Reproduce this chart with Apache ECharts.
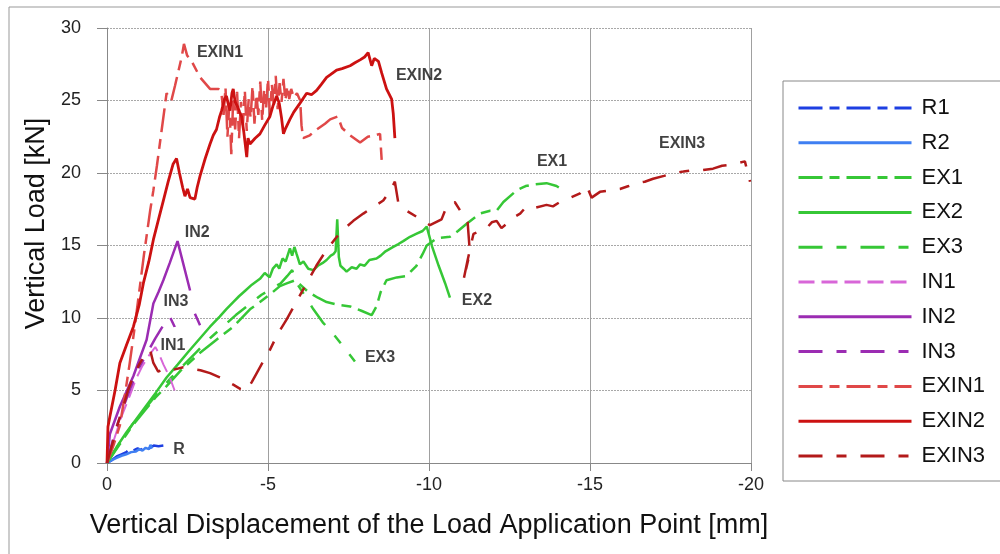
<!DOCTYPE html>
<html>
<head>
<meta charset="utf-8">
<script src="https://cdn.jsdelivr.net/npm/echarts@6/dist/echarts.min.js"></script>
<style>
  html, body { margin: 0; padding: 0; background: #fff; }
  #main { width: 1000px; height: 554px; }
</style>
</head>
<body>
<div id="main"></div>
<script>
// displacement [mm] (negative = downward), load [kN]
const R1 = [[0,0],[-0.15,0.2],[-0.3,0.45],[-0.45,0.6],[-0.6,0.75],[-0.7,0.95],[-0.8,0.85],[-0.95,1.0],[-1.05,0.9],[-1.2,1.1],[-1.3,1.0],[-1.45,1.2],[-1.6,1.15],[-1.75,1.2]]
const R2 = [[0,0],[-0.15,0.2],[-0.3,0.35],[-0.45,0.5],[-0.6,0.6],[-0.75,0.75],[-0.9,0.8],[-1.0,0.95],[-1.1,0.85],[-1.2,1.05],[-1.3,0.95],[-1.35,1.25],[-1.4,1.0]]

const EX1 = [[0,0],[-0.4,1.3],[-0.8,2.6],[-1.2,3.7],[-1.5,4.5],[-1.85,5.3],[-2.3,6.4],[-2.89,7.6],[-3.4,8.5],[-3.92,9.4],[-4.44,10.6],[-4.75,11.1],[-5.1,11.7],[-5.37,12.2],[-5.6,12.4],[-5.84,12.6],[-6.0,12.3],[-6.25,11.8],[-6.55,11.4],[-6.82,11.1],[-7.2,10.9],[-7.55,10.8],[-7.9,10.5],[-8.22,10.2],[-8.37,10.8],[-8.5,11.8],[-8.68,12.6],[-9.0,12.8],[-9.3,12.9],[-9.61,13.6],[-9.8,14.4],[-9.93,15.0],[-10.24,15.5],[-10.65,15.6],[-10.9,16.0],[-11.17,16.5],[-11.58,17.2],[-11.9,17.4],[-12.1,17.4],[-12.31,18.0],[-12.72,18.8],[-13.0,19.1],[-13.24,19.2],[-13.65,19.3],[-13.96,19.1],[-14.17,18.8]]
const EX2 = [[0,0],[-0.3,1.1],[-0.6,2.1],[-0.9,3.0],[-1.2,3.9],[-1.5,4.8],[-1.85,5.9],[-2.2,6.8],[-2.5,7.6],[-2.89,8.6],[-3.2,9.4],[-3.5,10.1],[-3.7,10.6],[-3.92,11.1],[-4.1,11.5],[-4.3,11.9],[-4.5,12.3],[-4.75,12.7],[-4.9,13.1],[-5.05,12.8],[-5.15,13.4],[-5.27,13.7],[-5.35,13.4],[-5.45,14.1],[-5.55,13.9],[-5.68,14.8],[-5.75,14.3],[-5.82,14.9],[-5.89,14.4],[-5.99,13.7],[-6.1,13.9],[-6.25,13.4],[-6.41,13.3],[-6.55,13.6],[-6.7,13.8],[-6.82,14.0],[-6.95,14.3],[-7.03,14.4],[-7.1,14.6],[-7.15,16.8],[-7.2,14.2],[-7.25,13.6],[-7.35,13.4],[-7.44,13.2],[-7.6,13.5],[-7.75,13.4],[-7.86,13.7],[-8.0,13.6],[-8.15,14.0],[-8.37,14.1],[-8.5,14.3],[-8.65,14.6],[-8.89,14.9],[-9.05,15.1],[-9.2,15.3],[-9.41,15.6],[-9.6,15.8],[-9.8,16.0],[-9.93,16.3],[-10.1,14.9],[-10.3,13.6],[-10.5,12.4],[-10.65,11.4]]
const EX3 = [[0,0],[-0.4,1.4],[-0.8,2.7],[-1.2,3.8],[-1.6,4.9],[-2.0,5.9],[-2.4,6.8],[-2.8,7.7],[-3.2,8.6],[-3.6,9.4],[-4.0,10.2],[-4.4,10.9],[-4.8,11.6],[-5.1,12.0],[-5.4,12.4],[-5.6,12.9],[-5.75,13.3],[-5.89,12.4],[-6.1,11.7],[-6.41,10.6],[-6.7,9.7],[-7.03,8.9],[-7.35,8.0],[-7.7,7.0]]

const IN1 = [[0,0],[-0.2,1.5],[-0.45,3.2],[-0.7,4.6],[-0.9,5.8],[-1.1,6.7],[-1.3,7.4],[-1.5,8.0],[-1.6,7.6],[-1.75,6.8],[-1.95,5.9],[-2.1,5.0]]
const IN2 = [[0,0],[-0.09,2.0],[-0.4,3.9],[-0.82,6.0],[-1.0,7.1],[-1.23,8.5],[-1.44,11.0],[-1.6,11.8],[-1.75,12.6],[-1.95,13.8],[-2.19,15.3],[-2.58,11.9],'-',[-2.73,10.3],[-2.89,9.5]]
const IN3 = [[0,0],[-0.25,2.2],[-0.5,3.8],[-0.75,5.3],[-1.0,6.6],[-1.25,7.6],[-1.5,8.6],[-1.75,9.5],[-1.95,10.1],[-2.1,9.4],[-2.2,8.6]]

const EXIN1 = [[0,0],[-0.2,1.2],[-0.4,2.6],[-0.55,4.6],[-0.7,6.8],[-0.85,9.2],[-1.0,11.8],[-1.15,14.4],[-1.34,17.4],[-1.44,18.8],[-1.55,20.5],[-1.7,23.0],[-1.85,25.5],[-2.0,25.0],[-2.11,26.0],[-2.32,28.0],[-2.39,28.9],[-2.49,28.1],[-2.63,27.7],[-2.89,26.6],[-3.2,25.8],[-3.46,25.8],
  [-3.55,25.6],[-3.62,24.0],[-3.68,25.9],[-3.74,22.5],[-3.8,24.8],[-3.86,21.3],[-3.92,25.2],[-3.98,23.0],[-4.04,25.6],[-4.1,22.4],[-4.16,24.9],[-4.22,23.3],[-4.28,25.7],[-4.34,22.9],[-4.4,25.1],[-4.46,23.8],[-4.52,26.0],[-4.58,23.4],[-4.64,25.4],[-4.7,24.0],[-4.76,26.3],[-4.82,23.6],[-4.88,25.8],[-4.94,24.4],[-5.0,26.5],[-5.06,24.0],[-5.12,26.1],[-5.18,24.7],[-5.24,26.7],[-5.3,24.4],[-5.36,26.2],[-5.42,24.9],[-5.48,26.5],[-5.54,25.0],[-5.6,26.0],[-5.66,25.1],[-5.72,25.8],[-5.8,25.2],[-5.9,25.5],[-6.0,25.0],
  [-6.04,23.3],[-6.09,22.4],[-6.3,22.6],[-6.51,23.0],[-6.77,23.4],[-6.93,23.7],[-7.17,23.9],[-7.3,23.1],[-7.55,22.6],[-7.86,22.1],[-8.1,22.5],[-8.32,22.6],[-8.48,22.7],[-8.53,20.9]]
const EXIN2 = [[0,0],[-0.03,2.5],[-0.09,3.2],[-0.25,5.0],[-0.4,6.9],[-0.6,8.1],[-0.82,9.4],[-1.0,10.9],[-1.13,12.4],[-1.3,13.9],[-1.44,15.4],[-1.6,16.8],[-1.75,18.1],[-1.9,19.4],[-2.05,20.6],[-2.16,21.0],[-2.25,20.0],[-2.35,19.0],[-2.42,18.4],[-2.5,18.9],[-2.58,18.3],[-2.73,18.2],[-2.8,19.0],[-2.89,19.8],[-3.05,21.0],[-3.2,22.0],[-3.3,22.6],[-3.4,23.0],[-3.5,23.9],[-3.56,24.3],[-3.65,25.1],[-3.71,25.3],[-3.78,24.6],[-3.82,24.3],[-3.88,25.5],[-3.92,25.8],[-3.98,24.9],[-4.05,24.6],[-4.12,24.2],[-4.18,23.9],[-4.25,22.8],[-4.34,21.1],[-4.38,22.4],[-4.44,22.0],[-4.6,22.4],[-4.75,22.7],[-4.9,23.3],[-5.06,23.9],[-5.15,24.6],[-5.27,25.3],[-5.35,24.8],[-5.42,23.8],[-5.48,22.7],[-5.55,23.1],[-5.68,23.7],[-5.8,24.2],[-5.99,24.8],[-6.2,25.5],[-6.35,25.4],[-6.51,25.7],[-6.65,26.1],[-6.82,26.6],[-6.95,26.8],[-7.13,27.1],[-7.3,27.2],[-7.55,27.4],[-7.7,27.6],[-7.86,27.8],[-8.0,28.0],[-8.11,28.3],[-8.22,27.4],[-8.3,27.9],[-8.43,27.7],[-8.53,26.9],[-8.68,25.8],[-8.84,25.1],[-8.89,24.1],[-8.94,22.4]]
const EXIN3 = [[0,0],[-0.2,1.6],[-0.35,2.8],[-0.51,3.9],[-0.65,5.0],[-0.82,6.0],[-1.0,6.8],[-1.13,7.3],[-1.34,7.8],[-1.44,6.9],[-1.59,6.3],[-1.8,6.5],[-2.0,6.4],[-2.37,6.6],[-2.6,6.5],[-2.9,6.4],[-3.2,6.2],[-3.5,5.9],[-3.75,5.6],[-3.92,5.4],[-4.15,5.1],[-4.34,5.0],[-4.5,5.6],[-4.65,6.2],[-4.85,7.0],[-5.06,7.8],[-5.3,8.9],[-5.58,9.9],[-5.9,11.2],[-6.2,12.4],[-6.5,13.6],[-6.82,14.7],[-7.1,15.5],[-7.34,16.1],[-7.65,16.7],[-7.96,17.2],[-8.3,17.7],[-8.58,18.1],[-8.8,18.8],[-8.94,19.4],[-9.05,17.9],[-9.3,17.4],[-9.6,17.0],[-10.03,16.4],[-10.39,16.8],[-10.55,17.7],[-10.8,18.0],[-11.2,16.6],[-11.27,14.5],[-11.07,12.6],[-11.2,14.0],[-11.32,15.2],[-11.38,15.8],[-11.6,16.0],[-11.79,16.2],[-11.95,16.6],[-12.1,16.7],[-12.25,16.2],[-12.41,16.5],[-12.6,16.9],[-12.83,17.2],[-13.03,17.7],[-13.3,17.6],[-13.65,17.8],[-13.85,17.7],[-14.07,18.0],[-14.4,18.3],[-14.69,18.6],[-14.9,19.1],[-15.05,18.3],[-15.31,18.7],[-15.6,18.8],[-15.93,18.9],[-16.2,19.1],[-16.45,19.3],[-16.7,19.4],[-16.96,19.6],[-17.3,19.8],[-17.58,20.0],[-17.9,20.1],[-18.2,20.2],[-18.5,20.2],[-18.82,20.3],[-19.1,20.5],[-19.45,20.6],[-19.81,20.8],[-19.97,19.4]]

// curve labels inside the plot [text, x, y]
const curveLabels = [['EXIN1',-3.51,28.3],['EXIN2',-9.69,26.7],['IN2',-2.8,15.9],['IN3',-2.14,11.1],['IN1',-2.05,8.1],['R',-2.24,0.9],['EX3',-8.48,7.3],['EX2',-11.49,11.2],['EX1',-13.82,20.8],['EXIN3',-17.86,22.0]]

const legendNames = ['R1','R2','EX1','EX2','EX3','IN1','IN2','IN3','EXIN1','EXIN2','EXIN3']

const dashDot = [24, 7, 10, 7]
const longGap = [24, 14, 10, 14]

function line(name, data, color, type, width) {
  return {
    name: name,
    type: 'line',
    data: data,
    symbol: 'none',
    showSymbol: false,
    connectNulls: false,
    lineStyle: { color: color, width: width, type: type },
    itemStyle: { color: color },
    emphasis: { disabled: true },
    z: 3
  }
}

const chart = echarts.init(document.getElementById('main'))

const option = {
  animation: false,
  backgroundColor: '#fff',
  grid: { left: 107, right: 249, top: 28, bottom: 91 },
  xAxis: {
    type: 'value',
    min: -20, max: 0, interval: 5,
    inverse: true,
    name: 'Vertical Displacement of the Load Application Point [mm]',
    nameLocation: 'middle',
    nameGap: 49,
    nameTextStyle: { fontSize: 27, color: '#111', fontFamily: 'Liberation Sans' },
    axisLine: { onZero: false, lineStyle: { color: '#888' } },
    axisTick: { show: true, length: 8, lineStyle: { color: '#888' } },
    axisLabel: { fontSize: 18, color: '#222', margin: 13, fontFamily: 'Liberation Sans' },
    splitLine: { show: true, lineStyle: { color: '#a0a0a0', width: 1 } }
  },
  yAxis: {
    type: 'value',
    min: 0, max: 30, interval: 5,
    name: 'Vertical Load [kN]',
    nameLocation: 'middle',
    nameGap: 56,
    nameTextStyle: { fontSize: 27, color: '#111', fontFamily: 'Liberation Sans', padding: [0, 0, 0, 44] },
    axisLine: { show: true, onZero: false, lineStyle: { color: '#888' } },
    axisTick: { show: true, length: 10, lineStyle: { color: '#888' } },
    axisLabel: { fontSize: 18, color: '#222', margin: 26, fontFamily: 'Liberation Sans' },
    splitLine: { show: true, lineStyle: { color: '#a8a8a8', width: 1, type: [2, 1] } }
  },
  legend: {
    data: legendNames,
    orient: 'vertical',
    left: 792,
    top: 92,
    itemWidth: 113,
    itemHeight: 2,
    itemGap: 12.8,
    lineStyle: { width: 3 },
    itemStyle: { opacity: 0 },
    textStyle: { fontSize: 22, lineHeight: 22, color: '#111', fontFamily: 'Liberation Sans', padding: [0, 0, 0, 5] },
    selectedMode: false
  },
  graphic: [
    { type: 'rect', shape: { x: 9, y: 7, width: 1000, height: 560 }, style: { fill: 'none', stroke: '#999', lineWidth: 1 }, z: -1 },
    { type: 'rect', shape: { x: 783, y: 81, width: 230, height: 400 }, style: { fill: 'none', stroke: '#888', lineWidth: 1 }, z: -1 }
  ],
  series: [
    line('R1', R1, '#1d3fe2', dashDot, 2.5),
    line('R2', R2, '#3f7ff2', 'solid', 2.5),
    line('EX1', EX1, '#36c736', dashDot, 2.5),
    line('EX2', EX2, '#36c736', 'solid', 2.5),
    line('EX3', EX3, '#36c736', longGap, 2.5),
    line('IN1', IN1, '#d866d8', [16, 7], 2),
    line('IN2', IN2, '#9b2cb2', 'solid', 2.5),
    line('IN3', IN3, '#9b2cb2', longGap, 2.5),
    line('EXIN1', EXIN1, '#e04848', dashDot, 2.5),
    line('EXIN2', EXIN2, '#cc1111', 'solid', 2.8),
    line('EXIN3', EXIN3, '#b31a1a', longGap, 2.5),
    {
      type: 'scatter',
      silent: true,
      symbolSize: 0,
      data: curveLabels.map(d => ({ name: d[0], value: [d[1], d[2]] })),
      label: {
        show: true,
        position: 'inside',
        formatter: p => p.name,
        fontSize: 16,
        fontWeight: 'bold',
        color: '#111',
        fontFamily: 'Liberation Sans'
      },
      z: 5
    }
  ]
}

chart.setOption(option)
</script>
</body>
</html>
